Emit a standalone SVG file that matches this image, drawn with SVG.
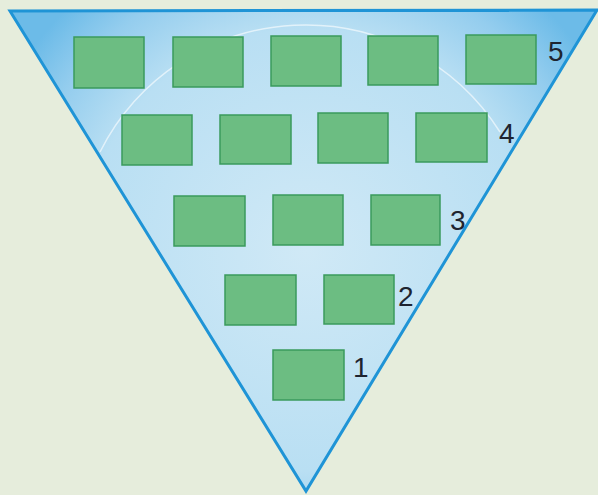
<svg xmlns="http://www.w3.org/2000/svg" width="598" height="495" viewBox="0 0 598 495">
<style>
.box{fill:#6cbd82;stroke:#3a9a5c;stroke-width:1.5}
.lbl{font-family:"Liberation Sans",Arial,sans-serif;font-size:28px;fill:#1e2430}
</style>
<defs>
<radialGradient id="g" cx="306" cy="250" r="340" gradientUnits="userSpaceOnUse">
<stop offset="0" stop-color="#d0e9f6"/>
<stop offset="0.65" stop-color="#b9dff3"/>
<stop offset="0.85" stop-color="#94cdee"/>
<stop offset="1" stop-color="#6cbbe8"/>
</radialGradient>
</defs>
<rect width="598" height="495" fill="#e6eddc"/>
<polygon points="10,11 597,10 306,491" fill="url(#g)" stroke="#1f94d6" stroke-width="3" stroke-linejoin="miter"/>
<path d="M100,152 A230,230 0 0 1 500,132" fill="none" stroke="#ffffff" stroke-opacity="0.6" stroke-width="1.5"/>
<g id="row5">
<rect class="box" x="74" y="37" width="70" height="51"/>
<rect class="box" x="173" y="37" width="70" height="50"/>
<rect class="box" x="271" y="36" width="70" height="50"/>
<rect class="box" x="368" y="36" width="70" height="49"/>
<rect class="box" x="466" y="35" width="70" height="49"/>
<text class="lbl" x="548" y="61">5</text>
</g>
<g id="row4">
<rect class="box" x="122" y="115" width="70" height="50"/>
<rect class="box" x="220" y="115" width="71" height="49"/>
<rect class="box" x="318" y="113" width="70" height="50"/>
<rect class="box" x="416" y="113" width="71" height="49"/>
<text class="lbl" x="499" y="143">4</text>
</g>
<g id="row3">
<rect class="box" x="174" y="196" width="71" height="50"/>
<rect class="box" x="273" y="195" width="70" height="50"/>
<rect class="box" x="371" y="195" width="69" height="50"/>
<text class="lbl" x="450" y="230">3</text>
</g>
<g id="row2">
<rect class="box" x="225" y="275" width="71" height="50"/>
<rect class="box" x="324" y="275" width="70" height="49"/>
<text class="lbl" x="398" y="306">2</text>
</g>
<g id="row1">
<rect class="box" x="273" y="350" width="71" height="50"/>
<text class="lbl" x="353" y="377">1</text>
</g>
<g id="connectors"/>
</svg>
